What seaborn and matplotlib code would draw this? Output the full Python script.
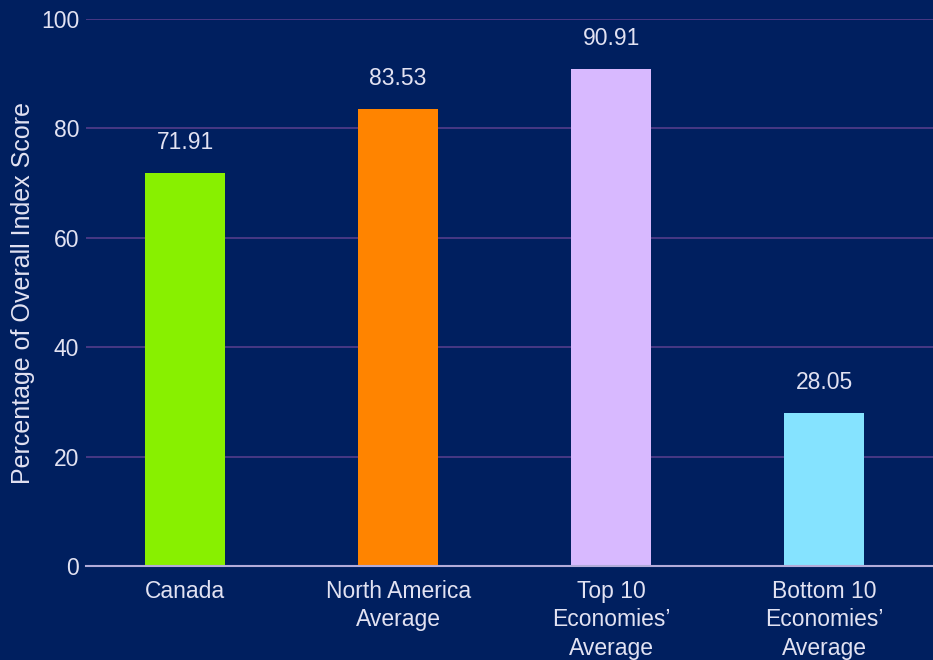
import pandas as pd
import seaborn as sns
import matplotlib.pyplot as plt

# values
categories = ["Canada", "North America\nAverage", "Top 10\nEconomies’\nAverage", "Bottom 10\nEconomies’\nAverage"]
scores = [71.91, 83.53, 90.91, 28.05]
bar_colors = ["#88f000", "#ff8400", "#d8b9ff", "#85e3ff"]
yticks = [0, 20, 40, 60, 80, 100]

bg = "#001f5f"
txt = "#e2e2f2"
fs = 16.5

sns.set_theme(style="white")
plt.rcParams["font.family"] = ["Liberation Sans", "DejaVu Sans"]

df = pd.DataFrame({"category": categories, "score": scores})

fig = plt.figure(figsize=(9.33, 6.6), dpi=100, facecolor=bg)
ax = fig.add_axes([86 / 933, 1 - 566 / 660, 1 - 86 / 933, (566 - 19) / 660])
ax.set_facecolor(bg)

sns.barplot(data=df, x="category", y="score", hue="category", palette=bar_colors,
            legend=False, width=0.375, saturation=1, linewidth=0, ax=ax, zorder=3)

ax.set_ylim(0, 100)
ax.set_xlim(-0.465, 3.51)
ax.set_yticks(yticks)
ax.yaxis.grid(True, color="#5b3f8f", linewidth=1.1, zorder=0)
ax.xaxis.grid(False)

for s in ["top", "right", "left"]:
    ax.spines[s].set_visible(False)
ax.spines["bottom"].set_color("#b3acd9")
ax.spines["bottom"].set_linewidth(1.5)
ax.spines["bottom"].set_zorder(4)

ax.tick_params(axis="x", length=0, pad=10, labelsize=fs, colors=txt)
ax.tick_params(axis="y", length=0, pad=5, labelsize=fs, colors=txt)
for lab in ax.get_xticklabels():
    lab.set_linespacing(1.31)
    lab.set_verticalalignment("top")

ax.set_xlabel("")
ax.set_ylabel("Percentage of Overall Index Score", fontsize=18, color=txt, labelpad=4)

for i, v in enumerate(scores):
    ax.annotate(f"{v:.2f}", xy=(i, v), xytext=(0, 22), textcoords="offset points",
                ha="center", va="center", fontsize=fs, color=txt)

fig.savefig("out.png", dpi=100, facecolor=bg)
